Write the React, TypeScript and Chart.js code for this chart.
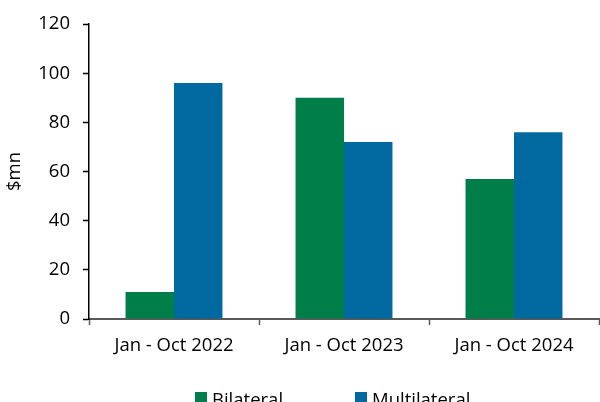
import React, { useEffect, useRef } from 'react';
import { Chart, registerables } from 'chart.js';

Chart.register(...registerables);

const categories = ['Jan - Oct 2022', 'Jan - Oct 2023', 'Jan - Oct 2024'];
const seriesNames = ['Bilateral', 'Multilateral'];
const bilateral = [11, 90, 57];
const multilateral = [96, 72, 76];
const yTicks = [0, 20, 40, 60, 80, 100, 120];
const yTitle = '$mn';

const GREEN = '#007E4A';
const BLUE = '#006AA0';
const COLORS = [GREEN, BLUE];
const FONT = "'Open Sans', sans-serif";
const FS = 18.5;

export default function App() {
  const ref = useRef<HTMLCanvasElement>(null);

  useEffect(() => {
    const font = { family: FONT, size: FS };
    const chart = new Chart(ref.current as HTMLCanvasElement, {
      type: 'bar',
      data: {
        labels: categories,
        datasets: [
          { label: seriesNames[0], data: bilateral, backgroundColor: COLORS[0], borderWidth: 0 },
          { label: seriesNames[1], data: multilateral, backgroundColor: COLORS[1], borderWidth: 0 },
        ],
      },
      options: {
        animation: false,
        responsive: false,
        devicePixelRatio: 1,
        layout: { padding: { top: 23, right: 1, left: 0, bottom: 0 } },
        plugins: { legend: { display: false }, tooltip: { enabled: false } },
        datasets: { bar: { categoryPercentage: 0.57, barPercentage: 1 } },
        scales: {
          x: {
            grid: {
              offset: true,
              drawOnChartArea: false,
              drawTicks: true,
              tickLength: 6,
              tickColor: '#595959',
              tickWidth: 1.5,
            },
            border: { color: '#595959', width: 2 },
            ticks: { font, color: '#000', padding: 10, maxRotation: 0, autoSkip: false },
            afterFit: (s: any) => {
              s.height = 83;
            },
          },
          y: {
            min: 0,
            max: 120,
            afterBuildTicks: (s: any) => {
              s.ticks = yTicks.map((v) => ({ value: v }));
            },
            grid: { drawOnChartArea: false, tickLength: 6, tickColor: '#000', tickWidth: 1.5 },
            border: { color: '#000', width: 1.5 },
            ticks: { font, color: '#000', padding: 13 },
            title: { display: true, text: yTitle, font, color: '#000', padding: { top: 4, bottom: 0 } },
            afterFit: (s: any) => {
              s.width = 89;
            },
          },
        },
      },
    });
    return () => chart.destroy();
  }, []);

  const legendPos = [195, 355];

  return (
    <div
      style={{
        position: 'fixed',
        left: 0,
        top: 0,
        width: 600,
        height: 402,
        overflow: 'hidden',
        background: '#fff',
      }}
    >
      <canvas ref={ref} width={600} height={402} style={{ display: 'block', width: 600, height: 402 }} />
      {seriesNames.map((name, i) => (
        <div
          key={name}
          style={{
            position: 'absolute',
            left: legendPos[i],
            top: 386,
            height: 24,
            display: 'flex',
            alignItems: 'center',
            fontFamily: FONT,
            fontSize: FS,
            color: '#000',
            whiteSpace: 'nowrap',
          }}
        >
          <span style={{ display: 'inline-block', width: 12, height: 12, background: COLORS[i], marginRight: 5 }} />
          <span>{name}</span>
        </div>
      ))}
    </div>
  );
}
